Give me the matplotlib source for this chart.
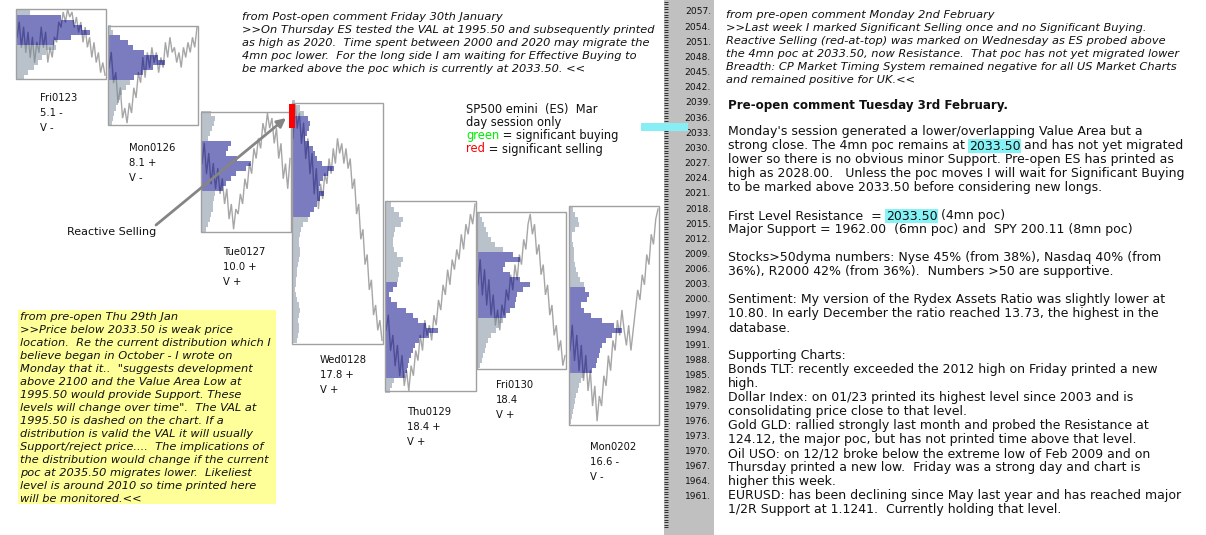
import matplotlib
matplotlib.use("Agg")
import matplotlib.pyplot as plt
import numpy as np
from matplotlib.patches import Rectangle
from matplotlib.path import Path

# ---------------- data ----------------
day_names = ["Fri0123", "Mon0126", "Tue0127", "Wed0128", "Thu0129", "Fri0130", "Mon0202"]
day_stat1 = ["5.1 -", "8.1 +", "10.0 +", "17.8 +", "18.4 +", "18.4", "16.6 -"]
day_stat2 = ["V -", "V -", "V +", "V +", "V +", "V +", "V -"]
day_high = [2057.6, 2054.2, 2037.2, 2039.0, 2019.5, 2017.4, 2018.6]
day_low = [2043.7, 2034.6, 2013.5, 1991.3, 1982.0, 1986.3, 1975.2]
va_high = [2056.4, 2052.1, 2031.9, 2036.2, 2003.2, 2009.3, 2002.6]
va_low = [2050.6, 2043.7, 2021.8, 2016.8, 1984.8, 1997.0, 1985.7]
profile_top = [2057, 2054, 2037, 2039, 2019, 2017, 2018]

prof_fri0123 = [14, 45, 58, 66, 74, 55, 38, 40, 30, 26, 22, 18, 12, 8]
prof_mon0126 = [3, 5, 12, 20, 25, 36, 50, 57, 45, 35, 26, 22, 18, 14, 12, 10, 8, 6, 5, 4]
prof_tue0127 = [10, 14, 13, 11, 9, 7, 30, 27, 25, 36, 50, 45, 35, 30, 25, 22, 14, 13, 12, 12, 10, 9, 7, 5]
prof_wed0128 = [3, 8, 12, 16, 18, 17, 15, 13, 17, 21, 23, 25, 30, 42, 36, 31, 28, 27, 32, 28,
                25, 22, 18, 16, 11, 9, 8, 7, 7, 8, 8, 7, 6, 5, 5, 4, 4, 3, 4, 5, 7, 8, 7, 6, 7, 7, 6, 5]
prof_thu0129 = [6, 9, 14, 18, 16, 10, 9, 8, 8, 9, 12, 18, 16, 13, 14, 13, 12, 8, 4, 6,
                12, 21, 28, 33, 41, 53, 44, 34, 30, 28, 26, 24, 23, 22, 20, 9, 7, 5]
prof_fri0130 = [3, 5, 7, 9, 11, 14, 18, 26, 36, 43, 28, 26, 33, 43, 53, 46, 40, 39, 38, 33,
                29, 26, 22, 19, 14, 11, 9, 8, 6, 5, 3]
prof_mon0202 = [4, 6, 9, 10, 6, 3, 3, 4, 5, 5, 5, 6, 7, 9, 11, 15, 16, 20, 18, 12, 15, 22, 33,
                45, 53, 43, 37, 33, 31, 30, 28, 27, 23, 15, 12, 10, 9, 7, 6, 5, 4, 3, 2]

path_fri0123 = [2052, 2055, 2050, 2054, 2049, 2053, 2048, 2052, 2047, 2051, 2049, 2054, 2050,
                2053, 2047, 2050, 2048, 2052, 2051, 2055, 2054, 2057, 2055, 2057.5, 2056, 2057,
                2054, 2056, 2053, 2055, 2051, 2054, 2050, 2052, 2048, 2051, 2047, 2049, 2045,
                2047, 2044.5]
path_mon0126 = [2046, 2049, 2043, 2045, 2039, 2042, 2036, 2038, 2035, 2039, 2037, 2042, 2040,
                2045, 2043, 2048, 2044, 2049, 2046, 2050, 2047, 2049, 2045, 2048, 2046, 2051,
                2048, 2052, 2049, 2050, 2047, 2049, 2046, 2050, 2048, 2051, 2049, 2052, 2050, 2054]
path_tue0127 = [2027, 2031, 2025, 2029, 2023, 2027, 2022, 2026, 2021, 2024, 2019, 2022, 2016,
                2019, 2014, 2018, 2017, 2021, 2019, 2024, 2022, 2027, 2025, 2030, 2028, 2032,
                2030, 2035, 2033, 2037, 2034, 2036, 2031, 2034, 2028, 2031, 2024, 2027, 2022, 2028]
path_wed0128 = [2032, 2038.8, 2034, 2037, 2031, 2035, 2028, 2032, 2025, 2029, 2021, 2026, 2018,
                2023, 2020, 2025, 2023, 2028, 2025, 2030, 2027, 2032, 2029, 2031, 2027, 2030,
                2026, 2028, 2022, 2024, 2017, 2019, 2012, 2014, 2007, 2009, 2002, 2004, 1997,
                1999, 1994, 1996, 1992]
path_thu0129 = [1994, 1997, 1990, 1993, 1987, 1991, 1985, 1989, 1983, 1986, 1982, 1987, 1985,
                1990, 1988, 1993, 1990, 1996, 1993, 1995, 1992, 1997, 1995, 2000, 1998, 2003,
                2001, 2006, 2003, 2008, 2006, 2010, 2008, 2013, 2010, 2015, 2013, 2017, 2015, 2019]
path_fri0130 = [2003, 2008, 2001, 2006, 1999, 2004, 1997, 2001, 1995, 1998, 1994, 1999, 1997,
                2002, 2000, 2005, 2002, 2007, 2004, 2009, 2007, 2012, 2010, 2015, 2017, 2013,
                2015, 2009, 2011, 2005, 2007, 2001, 2003, 1997, 1999, 1993, 1995, 1990, 1992,
                1987, 1989]
path_mon0202 = [1990, 1995, 1988, 1993, 1986, 1991, 1984, 1989, 1982, 1986, 1979, 1983, 1976,
                1981, 1979, 1985, 1983, 1989, 1986, 1992, 1990, 1996, 1993, 1998, 1994, 1991,
                1995, 1990, 1994, 1998, 2002, 2000, 2005, 2003, 2009, 2007, 2013, 2011, 2016, 2018]

profiles = [prof_fri0123, prof_mon0126, prof_tue0127, prof_wed0128, prof_thu0129, prof_fri0130, prof_mon0202]
paths = [path_fri0123, path_mon0126, path_tue0127, path_wed0128, path_thu0129, path_fri0130, path_mon0202]

reactive_top, reactive_bottom = 2038.8, 2034.0   # red-at-top on Wednesday
poc_4mn = 2033.5
axis_labels = list(range(2057, 1960, -3))

# ---------------- layout ----------------
W, H = 1206, 535
PPP = 5.052          # pixels per point
P_TOP = 2057 + 12 / PPP
P_BOT = 2057 - (H - 12) / PPP
box_x0 = [16, 108, 201, 292, 385, 477, 569]
box_w = [90, 90, 90, 91, 91, 89, 90]
label_y = [98, 148, 252, 360, 412, 385, 447]
label_x = [40, 129, 223, 320, 407, 496, 590]

C_VA = "#7b7bc0"
C_GRAY = "#b9c2cb"
C_LINE = "#a6a6a6"
C_TXT = "#111111"
FONT = "DejaVu Sans"
FS_IT = 8.2
FS_BODY = 9.0

fig = plt.figure(figsize=(W / 100, H / 100), dpi=100)
fig.patch.set_facecolor("white")
ax = fig.add_axes([0, 0, 1, 1])
ax.set_xlim(0, W)
ax.set_ylim(P_BOT, P_TOP)
ax.axis("off")

# price strip
ax.add_patch(Rectangle((664, P_BOT), 50, P_TOP - P_BOT, facecolor="#c0c0c0", edgecolor="none", zorder=0))
ticks = np.arange(1955, 2059.01, 0.5)
ax.hlines(ticks, 664, 667.5, color="#303030", lw=0.7, zorder=1)
for p in axis_labels:
    ax.text(711, p, f"{p}.", ha="right", va="center", fontsize=6.6, color="#111111", family=FONT, zorder=2)

# 4mn poc marker
ax.add_patch(Rectangle((641, poc_4mn), 47, 1.5, facecolor="#86eef4", edgecolor="none", zorder=3))

# day profiles
for i in range(7):
    x0, w = box_x0[i], box_w[i]
    widths = np.array(profiles[i], dtype=float)
    levels = profile_top[i] - np.arange(len(widths))
    in_va = (levels >= va_low[i]) & (levels <= va_high[i])
    pr = np.array(paths[i], dtype=float)
    xs = np.linspace(x0 + 1, x0 + w - 1, len(pr))
    ax.plot(xs, pr, color=C_LINE, lw=1.0, zorder=1, solid_joinstyle="miter")
    bars_va = ax.barh(levels[in_va], widths[in_va], height=1.0, left=x0, color=C_VA, linewidth=0, zorder=2)
    bars_gr = ax.barh(levels[~in_va], widths[~in_va], height=1.0, left=x0, color=C_GRAY, linewidth=0, zorder=2)
    for bars, col in ((bars_va, "#4e4e96"), (bars_gr, "#8d959d")):
        rects = [r.get_path().transformed(r.get_patch_transform()) for r in bars]
        if rects:
            cp = Path.make_compound_path(*rects)
            ln, = ax.plot(xs, pr, color=col, lw=1.0, zorder=3)
            ln.set_clip_path(cp, ax.transData)
    ax.add_patch(Rectangle((x0, day_low[i]), w, day_high[i] - day_low[i], facecolor="none",
                           edgecolor="#a0a0a0", lw=1.0, zorder=4))

ax.add_patch(Rectangle((289, reactive_bottom), 6, reactive_top - reactive_bottom, facecolor="#ff0000",
                       edgecolor="none", zorder=5))

# ---------------- text overlay ----------------
ov = fig.add_axes([0, 0, 1, 1])
ov.set_xlim(0, W)
ov.set_ylim(H, 0)
ov.axis("off")
ov.patch.set_alpha(0)
renderer = fig.canvas.get_renderer()


def runs(x, y, parts, **kw):
    for s, style in parts:
        t = ov.text(x, y, s, ha="left", va="center", family=FONT, **{**kw, **style})
        x += t.get_window_extent(renderer=renderer).width


for i in range(7):
    for j, s in enumerate([day_names[i], day_stat1[i], day_stat2[i]]):
        ov.text(label_x[i], label_y[i] + 15 * j, s, ha="left", va="center", fontsize=7.2,
                color=C_TXT, family=FONT)

top_lines = ["from Post-open comment Friday 30th January",
             ">>On Thursday ES tested the VAL at 1995.50 and subsequently printed",
             "as high as 2020.  Time spent between 2000 and 2020 may migrate the",
             "4mn poc lower.  For the long side I am waiting for Effective Buying to",
             "be marked above the poc which is currently at 2033.50. <<"]
for j, s in enumerate(top_lines):
    ov.text(242, 17 + 13 * j, s, ha="left", va="center", fontsize=FS_IT, style="italic",
            color=C_TXT, family=FONT)

legend_lines = ["SP500 emini  (ES)  Mar", "day session only"]
for j, s in enumerate(legend_lines):
    ov.text(466, 109 + 13.3 * j, s, ha="left", va="center", fontsize=8.3, color=C_TXT, family=FONT)
runs(466, 135.6, [("green", {"color": "#00ee00"}), (" = significant buying", {"color": C_TXT})], fontsize=8.3)
runs(466, 149, [("red", {"color": "#ff0000"}), (" = significant selling", {"color": C_TXT})], fontsize=8.3)

ov.text(67, 232, "Reactive Selling", ha="left", va="center", fontsize=8.0, color=C_TXT, family=FONT)
ov.annotate("", xy=(286, 118), xytext=(156, 225),
            arrowprops=dict(arrowstyle="-|>", color="#858585", lw=2, mutation_scale=13, shrinkA=0, shrinkB=0))

# yellow note
ov.add_patch(Rectangle((18, 310), 258, 194, facecolor="#ffff99", edgecolor="none", zorder=0))
yellow_lines = ["from pre-open Thu 29th Jan",
                ">>Price below 2033.50 is weak price",
                "location.  Re the current distribution which I",
                "believe began in October - I wrote on",
                "Monday that it..  \"suggests development",
                "above 2100 and the Value Area Low at",
                "1995.50 would provide Support. These",
                "levels will change over time\".  The VAL at",
                "1995.50 is dashed on the chart. If a",
                "distribution is valid the VAL it will usually",
                "Support/reject price....  The implications of",
                "the distribution would change if the current",
                "poc at 2035.50 migrates lower.  Likeliest",
                "level is around 2010 so time printed here",
                "will be monitored.<<"]
for j, s in enumerate(yellow_lines):
    ov.text(20, 317 + 13.0 * j, s, ha="left", va="center", fontsize=FS_IT, style="italic",
            color=C_TXT, family=FONT)

# right panel
right_italic = ["from pre-open comment Monday 2nd February",
                ">>Last week I marked Significant Selling once and no Significant Buying.",
                "Reactive Selling (red-at-top) was marked on Wednesday as ES probed above",
                "the 4mn poc at 2033.50, now Resistance.  That poc has not yet migrated lower",
                "Breadth: CP Market Timing System remained negative for all US Market Charts",
                "and remained positive for UK.<<"]
for j, s in enumerate(right_italic):
    ov.text(726, 15 + 13 * j, s, ha="left", va="center", fontsize=FS_IT, style="italic",
            color=C_TXT, family=FONT)

ov.text(728, 105, "Pre-open comment Tuesday 3rd February.", ha="left", va="center", fontsize=8.6,
        weight="bold", color=C_TXT, family=FONT)

HL = {"bbox": dict(facecolor="#86f4f6", edgecolor="none", pad=0.6), "color": C_TXT}
PL = {"color": C_TXT}
body = [
    (132, [("Monday's session generated a lower/overlapping Value Area but a", PL)]),
    (146, [("strong close. The 4mn poc remains at ", PL), ("2033.50", HL), (" and has not yet migrated", PL)]),
    (160, [("lower so there is no obvious minor Support. Pre-open ES has printed as", PL)]),
    (174, [("high as 2028.00.   Unless the poc moves I will wait for Significant Buying", PL)]),
    (188, [("to be marked above 2033.50 before considering new longs.", PL)]),
    (216, [("First Level Resistance  = ", PL), ("2033.50", HL), (" (4mn poc)", PL)]),
    (230, [("Major Support = 1962.00  (6mn poc) and  SPY 200.11 (8mn poc)", PL)]),
    (258, [("Stocks>50dyma numbers: Nyse 45% (from 38%), Nasdaq 40% (from", PL)]),
    (272, [("36%), R2000 42% (from 36%).  Numbers >50 are supportive.", PL)]),
    (300, [("Sentiment: My version of the Rydex Assets Ratio was slightly lower at", PL)]),
    (314, [("10.80. In early December the ratio reached 13.73, the highest in the", PL)]),
    (328, [("database.", PL)]),
    (356, [("Supporting Charts:", PL)]),
    (370, [("Bonds TLT: recently exceeded the 2012 high on Friday printed a new", PL)]),
    (384, [("high.", PL)]),
    (398, [("Dollar Index: on 01/23 printed its highest level since 2003 and is", PL)]),
    (412, [("consolidating price close to that level.", PL)]),
    (426, [("Gold GLD: rallied strongly last month and probed the Resistance at", PL)]),
    (440, [("124.12, the major poc, but has not printed time above that level.", PL)]),
    (454, [("Oil USO: on 12/12 broke below the extreme low of Feb 2009 and on", PL)]),
    (468, [("Thursday printed a new low.  Friday was a strong day and chart is", PL)]),
    (482, [("higher this week.", PL)]),
    (496, [("EURUSD: has been declining since May last year and has reached major", PL)]),
    (510, [("1/2R Support at 1.1241.  Currently holding that level.", PL)]),
]
for y, parts in body:
    runs(728, y, parts, fontsize=FS_BODY)

fig.savefig("out.png", dpi=100, facecolor="white")
